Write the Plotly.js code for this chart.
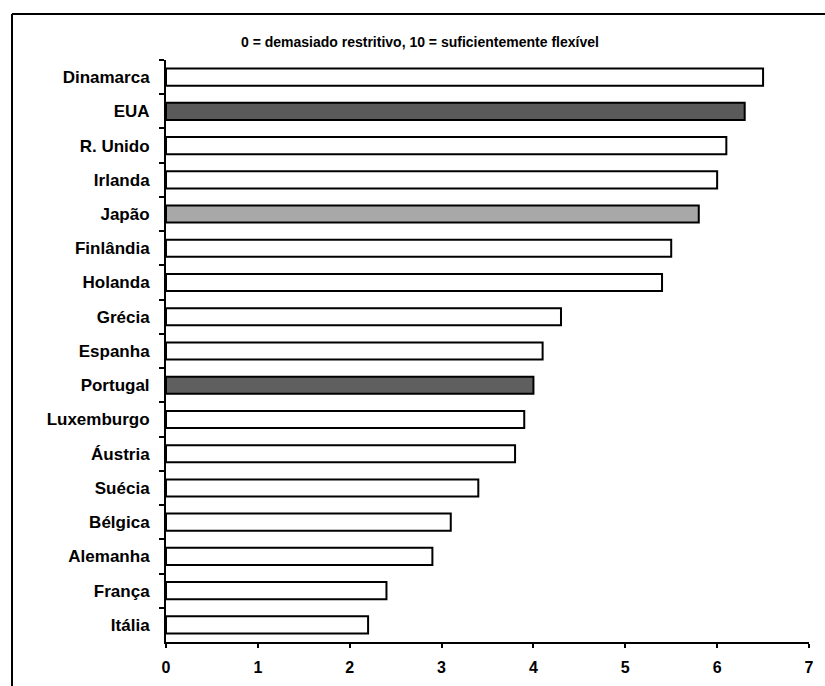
<!DOCTYPE html>
<html>
<head>
<meta charset="utf-8">
<script src="https://cdn.plot.ly/plotly-3.0.1.min.js"></script>
<style>html,body{margin:0;padding:0;background:#fff;}#chart{width:825px;height:686px;}</style>
</head>
<body>
<div id="chart"></div>
<script>
const countries = ["Dinamarca","EUA","R. Unido","Irlanda","Japão","Finlândia","Holanda","Grécia","Espanha","Portugal","Luxemburgo","Áustria","Suécia","Bélgica","Alemanha","França","Itália"];
const values = [6.5, 6.3, 6.1, 6.0, 5.8, 5.5, 5.4, 4.3, 4.1, 4.0, 3.9, 3.8, 3.4, 3.1, 2.9, 2.4, 2.2];
const barColors = ["#ffffff","#5a5a5a","#ffffff","#ffffff","#a8a8a8","#ffffff","#ffffff","#ffffff","#ffffff","#5f5f5f","#ffffff","#ffffff","#ffffff","#ffffff","#ffffff","#ffffff","#ffffff"];
const xTicks = [0,1,2,3,4,5,6,7];
const titleText = "0 = demasiado restritivo, 10 = suficientemente flexível";

const trace = {
  type: "bar",
  orientation: "h",
  x: values,
  y: countries,
  marker: {color: barColors, line: {color: "#000", width: 2}},
  hoverinfo: "x+y"
};

const layout = {
  width: 825, height: 686,
  margin: {l: 166, r: 16, t: 60, b: 44},
  paper_bgcolor: "#fff", plot_bgcolor: "#fff",
  showlegend: false,
  bargap: 0.5,
  font: {family: "Liberation Sans, Arial, sans-serif", color: "#000"},
  title: {
    text: titleText,
    font: {family: "Liberation Sans, Arial, sans-serif", size: 14, color: "#000", weight: "bold"},
    xref: "container", x: 0.509, xanchor: "center",
    yref: "container", y: 1 - 42/686, yanchor: "middle"
  },
  xaxis: {
    range: [0, 7],
    tickvals: xTicks,
    ticktext: xTicks.map(String),
    showgrid: false, zeroline: false,
    showline: true, linecolor: "#000", linewidth: 2,
    ticks: "outside", ticklen: 4, tickwidth: 2, tickcolor: "#000",
    ticklabelstandoff: 6,
    tickfont: {size: 16, family: "Liberation Sans, Arial, sans-serif", weight: "bold"},
    fixedrange: true
  },
  yaxis: {
    type: "category",
    autorange: "reversed",
    showgrid: false, zeroline: false,
    showline: true, linecolor: "#000", linewidth: 2,
    ticks: "outside", ticklen: 5, tickwidth: 2, tickcolor: "#000",
    tickson: "boundaries",
    ticklabelstandoff: 11,
    tickfont: {size: 17, family: "Liberation Sans, Arial, sans-serif", weight: "bold"},
    fixedrange: true
  },
  shapes: [
    {type: "line", xref: "paper", yref: "paper", x0: (12-166)/643, x1: (825-166)/643, y0: (642-14)/582, y1: (642-14)/582, line: {color: "#000", width: 2}},
    {type: "line", xref: "paper", yref: "paper", x0: (12-166)/643, x1: (12-166)/643, y0: (642-14)/582, y1: (642-686)/582, line: {color: "#000", width: 2}}
  ]
};

Plotly.newPlot("chart", [trace], layout, {displayModeBar: false, staticPlot: true});
</script>
</body>
</html>
